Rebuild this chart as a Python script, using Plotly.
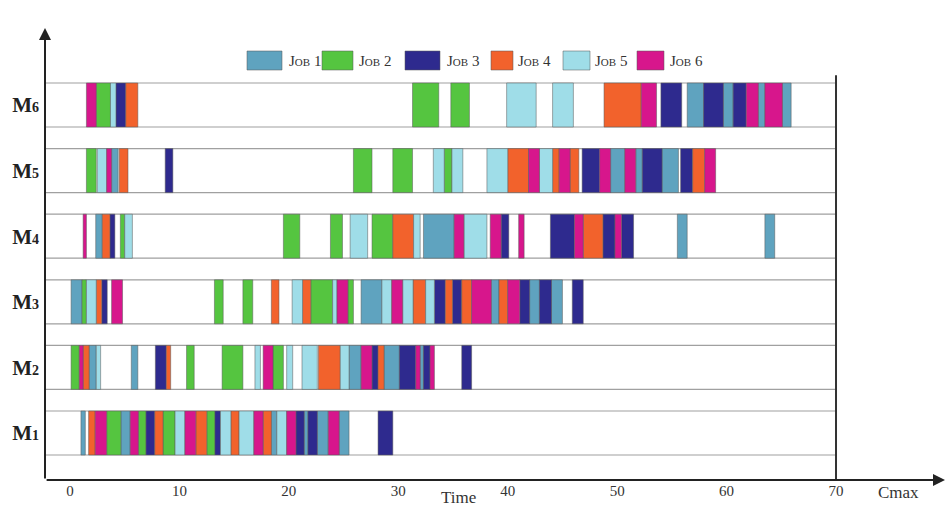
import plotly.graph_objects as go

machines = ["M1", "M2", "M3", "M4", "M5", "M6"]
job_labels = ["1", "2", "3", "4", "5", "6"]
job_colors = ["#5fa3bf", "#55c540", "#2e2a8e", "#f2622c", "#9fdde8", "#d7168c"]
x_ticks = [0, 10, 20, 30, 40, 50, 60, 70]
cmax = 70

m1_jobs = [1, 4, 6, 2, 1, 6, 2, 3, 4, 2, 5, 6, 4, 2, 3, 5, 4, 5, 6, 4, 1, 5, 6, 3, 1, 3, 1, 6, 1, 3]
m1_start = [1.0, 1.7, 2.3, 3.35, 4.65, 5.5, 6.25, 6.95, 7.75, 8.5, 9.6, 10.5, 11.5, 12.5, 13.25,
            13.75, 14.7, 15.45, 16.8, 17.65, 18.4, 18.9, 19.8, 20.65, 21.4, 21.75, 22.6, 23.6, 24.6, 28.15]
m1_end = [1.4, 2.3, 3.35, 4.65, 5.5, 6.25, 6.95, 7.75, 8.5, 9.6, 10.5, 11.5, 12.5, 13.25, 13.75,
          14.7, 15.45, 16.8, 17.65, 18.4, 18.9, 19.8, 20.65, 21.4, 21.75, 22.6, 23.6, 24.6, 25.5, 29.5]

m2_jobs = [2, 6, 4, 1, 5, 1, 3, 4, 2, 2, 5, 6, 2, 5, 5, 4, 5, 1, 6, 3, 4, 1, 3, 6, 1, 3, 6, 3]
m2_start = [0.1, 0.85, 1.2, 1.75, 2.4, 5.6, 7.8, 8.8, 10.65, 13.9, 16.9, 17.65, 18.55, 19.8, 21.2,
            22.7, 24.7, 25.5, 26.6, 27.6, 28.15, 28.7, 30.1, 31.6, 32.0, 32.3, 32.9, 35.8]
m2_end = [0.85, 1.2, 1.75, 2.4, 2.8, 6.2, 8.8, 9.2, 11.35, 15.8, 17.4, 18.55, 19.5, 20.35, 22.6,
          24.7, 25.5, 26.6, 27.6, 28.15, 28.7, 30.1, 31.6, 32.0, 32.3, 32.9, 33.3, 36.7]

m3_jobs = [1, 2, 5, 4, 3, 6, 2, 2, 4, 5, 4, 2, 5, 6, 2, 1, 5, 6, 5, 4, 5, 3, 4, 3, 4, 6, 1, 4, 6, 3, 1, 3, 1, 3]
m3_start = [0.1, 1.1, 1.5, 2.4, 2.9, 3.8, 13.2, 15.8, 18.4, 20.3, 21.25, 22.0, 24.0, 24.4, 25.4,
            26.6, 28.5, 29.4, 30.4, 31.35, 32.5, 33.3, 34.3, 34.95, 35.8, 36.7, 38.5, 39.2, 40.0,
            41.1, 42.0, 42.9, 44.0, 45.9]
m3_end = [1.1, 1.5, 2.4, 2.9, 3.4, 4.8, 14.0, 16.7, 19.1, 21.25, 22.0, 24.0, 24.4, 25.4, 25.9,
          28.5, 29.4, 30.4, 31.35, 32.5, 33.3, 34.3, 34.95, 35.8, 36.7, 38.5, 39.2, 40.0, 41.1,
          42.0, 42.9, 44.0, 45.0, 46.9]

m4_jobs = [6, 1, 4, 3, 2, 5, 2, 2, 5, 2, 4, 5, 1, 6, 5, 6, 3, 6, 3, 6, 4, 3, 6, 3, 1, 1]
m4_start = [1.2, 2.35, 2.95, 3.65, 4.6, 5.0, 19.5, 23.8, 25.6, 27.6, 29.5, 31.4, 32.3, 35.1, 36.0,
            38.4, 39.4, 41.0, 43.9, 46.1, 46.9, 48.7, 49.8, 50.4, 55.5, 63.5]
m4_end = [1.5, 2.95, 3.65, 4.1, 5.0, 5.7, 21.0, 24.9, 27.2, 29.5, 31.4, 32.0, 35.1, 36.0, 38.1,
          39.4, 40.1, 41.5, 46.1, 46.9, 48.7, 49.8, 50.4, 51.5, 56.4, 64.4]

m5_jobs = [2, 5, 6, 1, 4, 3, 2, 2, 5, 2, 5, 5, 4, 6, 5, 4, 6, 4, 3, 6, 1, 6, 1, 3, 1, 3, 4, 6]
m5_start = [1.5, 2.5, 3.35, 3.8, 4.5, 8.7, 25.9, 29.5, 33.2, 34.2, 34.9, 38.1, 40.0, 41.9, 42.9,
            44.1, 44.7, 45.7, 46.8, 48.4, 49.4, 50.7, 51.7, 52.3, 54.1, 55.8, 56.9, 58.0]
m5_end = [2.4, 3.35, 3.8, 4.4, 5.3, 9.4, 27.6, 31.3, 34.2, 34.9, 35.9, 40.0, 41.9, 42.9, 44.1,
          44.7, 45.7, 46.5, 48.4, 49.4, 50.7, 51.7, 52.3, 54.1, 55.6, 56.9, 58.0, 59.0]

m6_jobs = [6, 2, 5, 3, 4, 2, 2, 5, 5, 4, 6, 3, 1, 3, 1, 3, 6, 1, 6, 1]
m6_start = [1.5, 2.4, 3.7, 4.2, 5.1, 31.3, 34.8, 39.9, 44.1, 48.8, 52.2, 54.0, 56.4, 57.9, 59.7,
            60.6, 61.8, 62.9, 63.5, 65.1]
m6_end = [2.4, 3.7, 4.2, 5.1, 6.2, 33.7, 36.5, 42.6, 46.0, 52.2, 53.6, 55.9, 57.9, 59.7, 60.6,
          61.8, 62.9, 63.5, 65.1, 65.9]

schedule = [
    (m1_jobs, m1_start, m1_end),
    (m2_jobs, m2_start, m2_end),
    (m3_jobs, m3_start, m3_end),
    (m4_jobs, m4_start, m4_end),
    (m5_jobs, m5_start, m5_end),
    (m6_jobs, m6_start, m6_end),
]

# ---------- layout constants (pixels) ----------
W, H = 946, 518
L, R, T, B = 45, 0, 28, 38
px_per_unit = 10.943
x0_px = 70
x_lo = (L - x0_px) / px_per_unit
x_hi = (W - R - x0_px) / px_per_unit
row_px = 65.6
m1_px = 433
y_lo = 1 - (H - B - m1_px) / row_px
y_hi = 1 + (m1_px - T) / row_px
BAR_W = 0.67

fig = go.Figure()

for ji, jl in enumerate(job_labels):
    jid = ji + 1
    ys, bases, lens = [], [], []
    for mi, (jobs, st, en) in enumerate(schedule):
        for j, s, e in zip(jobs, st, en):
            if j == jid:
                ys.append(mi + 1)
                bases.append(s)
                lens.append(e - s)
    fig.add_trace(go.Bar(
        y=ys, x=lens, base=bases, orientation="h", width=BAR_W,
        marker=dict(color=job_colors[ji], line=dict(color="rgba(90,90,90,0.65)", width=0.8)),
        name="JOB " + jl, showlegend=False,
    ))

shapes = []
for mi in range(len(machines)):
    shapes.append(dict(type="rect", xref="x", yref="y", x0=x_lo, x1=cmax,
                       y0=mi + 1 - BAR_W / 2, y1=mi + 1 + BAR_W / 2,
                       line=dict(color="#a0a0a0", width=1.2), fillcolor="rgba(0,0,0,0)", layer="below"))
# Cmax vertical line
shapes.append(dict(type="line", xref="x", yref="y", x0=cmax, x1=cmax,
                   y0=y_lo, y1=6 + BAR_W / 2 + 0.12, line=dict(color="#333", width=2)))

def xp(px):
    return (px - L) / (W - L - R)

def yp(py):
    return (H - B - py) / (H - B - T)

# manual legend
legend_boxes = [(247, 282), (322, 353), (405, 440), (491, 513), (563, 590), (637, 664)]
legend_text_x = [287, 357, 445, 516, 593, 668]
annotations = []
for ji, jl in enumerate(job_labels):
    bx0, bx1 = legend_boxes[ji]
    shapes.append(dict(type="rect", xref="paper", yref="paper", x0=xp(bx0), x1=xp(bx1),
                       y0=yp(70), y1=yp(51), fillcolor=job_colors[ji],
                       line=dict(color="rgba(90,90,90,0.65)", width=0.8)))
    annotations.append(dict(xref="paper", yref="paper", x=xp(legend_text_x[ji]), y=yp(61),
                            xanchor="left", yanchor="middle", showarrow=False,
                            text="J<span style='font-size:11px'>OB</span> " + jl,
                            font=dict(family="Liberation Serif", size=15, color="#333")))

# axes arrows
annotations.append(dict(xref="paper", yref="paper", x=0.999, y=0, axref="pixel", ayref="pixel",
                        ax=-(W - L - R) + 1, ay=0, showarrow=True, arrowhead=2, arrowsize=1.2,
                        arrowwidth=2, arrowcolor="#222", text=""))
annotations.append(dict(xref="paper", yref="paper", x=0, y=1, axref="pixel", ayref="pixel",
                        ax=0, ay=(H - B - T), showarrow=True, arrowhead=2, arrowsize=1.2,
                        arrowwidth=2, arrowcolor="#222", text=""))
annotations.append(dict(xref="paper", yref="paper", x=xp(458), y=yp(497), showarrow=False,
                        xanchor="center", yanchor="middle",
                        text="Time", font=dict(family="Liberation Serif", size=17, color="#333")))
annotations.append(dict(xref="paper", yref="paper", x=xp(898), y=yp(492), showarrow=False,
                        xanchor="center", yanchor="middle",
                        text="Cmax", font=dict(family="Liberation Serif", size=17, color="#333")))

fig.update_layout(
    width=W, height=H,
    margin=dict(l=L, r=R, t=T, b=B),
    paper_bgcolor="white", plot_bgcolor="white",
    barmode="overlay",
    shapes=shapes, annotations=annotations,
    xaxis=dict(range=[x_lo, x_hi], tickvals=x_ticks, ticktext=[str(v) for v in x_ticks],
               showgrid=False, zeroline=False, showline=False, ticks="",
               tickfont=dict(family="Liberation Serif", size=15, color="#333")),
    yaxis=dict(range=[y_lo, y_hi], tickvals=list(range(1, len(machines) + 1)),
               ticktext=["<b>M<span style='font-size:14px'>" + m[1:] + "</span></b>" for m in machines],
               showgrid=False, zeroline=False, showline=False, ticks="",
               ticklabelstandoff=5,
               tickfont=dict(family="Liberation Serif", size=21, color="#222")),
)

fig.write_html("out.html")
